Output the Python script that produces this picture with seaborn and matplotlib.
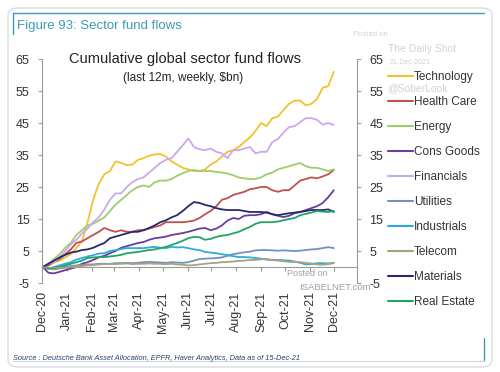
import numpy as np
import pandas as pd
import matplotlib
matplotlib.use("Agg")
import matplotlib.pyplot as plt
import matplotlib.dates as mdates
from matplotlib.patches import FancyBboxPatch
from matplotlib.lines import Line2D
import seaborn as sns

# ---------------- data (cumulative flows, $bn, weekly) ----------------
start_date = "2020-12-16"
n_weeks = 53
sectors = ["Technology", "Health Care", "Energy", "Cons Goods", "Financials",
           "Utilities", "Industrials", "Telecom", "Materials", "Real Estate"]

technology = [0, 0.5, 1.5, 2, 3, 4, 6, 8, 14, 21, 26, 29, 30, 33, 32.5, 31.8, 32, 33.5,
              34, 34.8, 35.2, 35.3, 34.5, 33, 32, 31, 30.5, 30, 30, 30.5, 32, 33, 34.5,
              36, 36.5, 37.5, 39, 40.5, 42.5, 45, 44, 46.5, 47, 49, 51, 52, 52, 50.5,
              51, 52.5, 56, 56.5, 61]
health_care = [0, 0.5, 1.5, 2.5, 4, 5.5, 7.5, 8, 9, 10, 11, 12.2, 11.5, 11, 11.5, 11, 11,
               11.5, 11.5, 12, 12.5, 13, 14, 14, 14, 14, 14.2, 14.5, 15.3, 16.5, 17.5, 19,
               21, 21.5, 22.5, 23, 23.5, 24.3, 24.6, 25, 25, 24, 23.5, 24, 24, 25.5, 27,
               27.5, 28, 27.7, 28.3, 29, 30.3]
energy = [0, 1, 2.5, 4, 6, 7.5, 10, 11.5, 13, 13.5, 14.5, 15.5, 17.5, 19.5, 21, 22.5, 24,
          25, 25.5, 25, 26.5, 27, 27, 27.5, 28.5, 29.3, 30, 30.3, 30, 30, 30, 29.7, 29.5,
          29.2, 28.7, 28, 27.7, 27.5, 27.5, 28, 29, 29.5, 30.5, 31, 31.5, 32, 32.5, 31.5,
          31, 31, 30.5, 30, 30.5]
cons_goods = [0, -1.8, -2, -1.5, -1, -0.5, 0, 1, 1.5, 2.2, 3, 3.5, 4.3, 5, 6, 6.5, 7, 7.5,
              7.8, 8.5, 9, 9.2, 9.5, 10, 10.3, 10.6, 11, 11.5, 12, 12.2, 11.5, 12, 13, 14.5,
              15.3, 15, 16, 16.2, 16.2, 16.5, 17.2, 16.5, 16, 15.6, 16, 16.8, 17.2, 17.8,
              18.4, 19, 20, 21.8, 24]
financials = [0, 1, 1.5, 3, 5, 7, 8.5, 10.5, 12, 14, 15.5, 18, 21, 23, 23, 25, 26.5, 27.5,
              28, 29.5, 31, 32.5, 33.5, 34, 36, 38, 40.2, 37.5, 36.8, 36.5, 37, 36, 35.5,
              34, 36.5, 36.5, 37, 37.5, 35.5, 36, 36, 39, 40, 42, 43.7, 44, 45.3, 46.5,
              46.5, 46, 44.5, 45, 44.4]
utilities = [0, -0.3, -0.5, -0.3, 0, 0.3, 0.5, 0.6, 0.8, 0.8, 1, 1, 1, 1.2, 1.2, 1.3, 1.2,
             1.3, 1.5, 1.6, 1.5, 1.4, 1.3, 1.5, 1.4, 1.3, 1.5, 2, 2.5, 2.6, 2.7, 2.8, 3,
             3.5, 4, 4.3, 4.6, 4.8, 5.2, 5.3, 5.3, 5.2, 5.1, 5.2, 5.1, 5, 5.1, 5.3, 5.5,
             5.6, 5.9, 6.2, 5.9]
industrials = [0, -0.5, 0, 0.5, 1, 1.5, 2.3, 2.8, 3.3, 3.7, 4.2, 4.3, 5, 5.3, 5.6, 5.9,
               5.9, 5.9, 5.9, 6.1, 6.3, 6, 5.9, 6.3, 6.1, 6.2, 5.9, 5.5, 5.3, 4.7, 4.5,
               4.3, 4, 3.7, 3.4, 3.1, 3.1, 3, 2.8, 2.6, 2.3, 2.2, 2.2, 2.1, 2, 1.7, 1.3,
               0.8, 0.9, 1.2, 1.2, 1.1, 1.3]
telecom = [0, -0.5, -0.8, -0.5, -0.3, 0, 0.2, 0.3, 0.5, 0.6, 0.8, 0.9, 1, 0.9, 1, 1.1,
           0.9, 1, 1, 1.1, 1, 1, 0.9, 1, 0.8, 0.7, 0.5, 0.6, 0.8, 1, 1.2, 1.3, 1.5, 1.6,
           1.7, 1.9, 2, 2.2, 2.2, 2.4, 2.5, 2.2, 2, 1.8, 1.6, 1.6, 1.5, 1.3, 1.1, 0.8,
           0.7, 0.9, 1.2]
materials = [0, 1, 2, 3, 3.8, 4.5, 4.8, 5.3, 5.5, 6, 6.8, 7.5, 9, 9.5, 10, 10.5, 11, 11,
             11.5, 12.2, 13, 14, 14.6, 15.5, 16.2, 17.5, 19, 20.3, 20, 19.4, 19, 18.4, 18,
             17.8, 17.8, 17.8, 17.5, 17.2, 17.2, 17.2, 17, 16.5, 16.2, 16.5, 16.8, 17,
             17.2, 17.5, 17.8, 17.8, 17.8, 18, 17.2]
real_estate = [0, -0.5, -0.3, 0, 0.5, 1, 1.5, 2, 2.8, 3, 3.1, 3.1, 3.3, 3.5, 3.8, 4.3,
               4.5, 4.7, 5, 5.3, 5.5, 5.9, 6.3, 6.9, 7.5, 8.2, 9, 9.4, 9.3, 8.5, 8.8, 9.4,
               9.8, 10, 10.5, 11, 11.8, 12.5, 13.5, 14, 14, 14, 14.2, 14.6, 15, 15.3,
               16.2, 16.6, 17, 17.5, 17.3, 17.2, 17.5]

series = [technology, health_care, energy, cons_goods, financials,
          utilities, industrials, telecom, materials, real_estate]
colors = ["#f2c12e", "#c0504d", "#9ccf6b", "#6a3d9a", "#cba8ee",
          "#6f93c0", "#2eaadc", "#a9a27c", "#28286e", "#22a466"]

y_ticks = [-5, 5, 15, 25, 35, 45, 55, 65]

# ---------------- build frame ----------------
dates = pd.date_range(start_date, periods=n_weeks, freq="7D")
df = pd.concat([pd.DataFrame({"date": dates, "value": v, "sector": s})
                for s, v in zip(sectors, series)], ignore_index=True)
palette = dict(zip(sectors, colors))

# ---------------- figure ----------------
sns.set_theme(style="white")
plt.rcParams["font.family"] = ["Liberation Sans", "DejaVu Sans"]

W, H = 500, 372
fig = plt.figure(figsize=(5.0, 3.72), dpi=100)

def fx(px):
    return px / W

def fy(py):
    return 1 - py / H

# outer frame
frame = FancyBboxPatch((fx(8), fy(367)), fx(484), (359 / H),
                       boxstyle="round,pad=0,rounding_size=0.02",
                       transform=fig.transFigure, facecolor="none",
                       edgecolor="#d8dde2", linewidth=1.0, zorder=-5)
fig.patches.append(frame)
teal = "#3d9cb3"
for xs, ys, c, w in [([13, 484], [13, 13], teal, 1.0),
                     ([13, 13], [13, 34], teal, 1.0),
                     ([484, 484], [338, 360], teal, 1.0),
                     ([13, 484], [361, 361], "#c9d6de", 0.8)]:
    fig.add_artist(Line2D([fx(v) for v in xs], [fy(v) for v in ys], color=c, lw=w,
                          transform=fig.transFigure, zorder=-4))

ax = fig.add_axes([fx(42), fy(283), (357 - 42) / W, (283 - 59) / H])
ax.set_facecolor("none")

sns.lineplot(data=df, x="date", y="value", hue="sector", hue_order=sectors,
             palette=palette, linewidth=1.3, ax=ax, legend=False)

ax.set_ylim(-5, 65)
ax.set_xlim(dates[0] - pd.Timedelta(days=1), dates[0] + pd.Timedelta(days=393))
ax.set_yticks(y_ticks)
ax.set_yticklabels([str(t) for t in y_ticks])

month_ticks = pd.date_range("2020-12-01", "2021-12-01", freq="MS") + pd.Timedelta(days=14)
ax.set_xticks(month_ticks)
ax.xaxis.set_major_formatter(mdates.DateFormatter("%b-%y"))
ax.set_xlabel("")
ax.set_ylabel("")

ax.spines["top"].set_visible(False)
for s in ["left", "right", "bottom"]:
    ax.spines[s].set_visible(True)
    ax.spines[s].set_color("#9a9a9a")
    ax.spines[s].set_linewidth(0.8)
ax.spines["bottom"].set_position(("data", 0))

ax.yaxis.set_ticks_position("both")
ax.tick_params(axis="y", which="major", left=True, right=True, labelleft=True,
               labelright=True, length=3, width=0.8, color="#9a9a9a",
               labelsize=9, labelcolor="#333333", pad=6, direction="out")
ax.tick_params(axis="x", which="major", bottom=True, length=3, width=0.8,
               color="#9a9a9a", labelsize=9, labelcolor="#333333", pad=14.5,
               direction="out")
for lbl in ax.get_xticklabels():
    lbl.set_rotation(90)
    lbl.set_ha("center")
    lbl.set_va("top")

# legend
handles = [Line2D([0], [0], color=c, lw=1.5) for c in colors]
leg = fig.legend(handles, sectors, loc="upper left",
                 bbox_to_anchor=(fx(388), fy(71)), bbox_transform=fig.transFigure,
                 frameon=False, fontsize=8.5, handlelength=2.1, handletextpad=0.1,
                 labelspacing=1.1, borderaxespad=0, borderpad=0)
for t in leg.get_texts():
    t.set_color("#333333")

# titles
fig.text(fx(17), fy(26), "Figure 93: Sector fund flows", color=teal, fontsize=9.5,
         ha="left", va="center")
fig.text(fx(185), fy(59), "Cumulative global sector fund flows", color="#222222",
         fontsize=10.5, ha="center", va="center")
fig.text(fx(183), fy(78), "(last 12m, weekly, $bn)", color="#222222",
         fontsize=8.5, ha="center", va="center")

# watermarks
wm = "#cfd2da"
fig.text(fx(353), fy(35), "Posted on", color=wm, fontsize=5.5, ha="left", va="center")
fig.text(fx(388), fy(49), "The Daily Shot", color=wm, fontsize=7.5, ha="left", va="center")
fig.text(fx(390), fy(63), "21-Dec-2021", color=wm, fontsize=5, ha="left", va="center")
fig.text(fx(387), fy(88), "@SoberLook", color=wm, fontsize=7.5, ha="left", va="center")
fig.text(fx(287), fy(274), "Posted on", color="#9aa0aa", fontsize=6.5, ha="left", va="center")
fig.text(fx(299), fy(288), "ISABELNET.com", color="#9aa0aa", fontsize=6.8, ha="left",
         va="center")

# source
fig.text(fx(13), fy(358), "Source : Deutsche Bank Asset Allocation, EPFR, Haver Analytics, "
         "Data as of 15-Dec-21", color="#2a3f6a", fontsize=5.3, style="italic",
         ha="left", va="center")

fig.savefig("out.png", dpi=100)
